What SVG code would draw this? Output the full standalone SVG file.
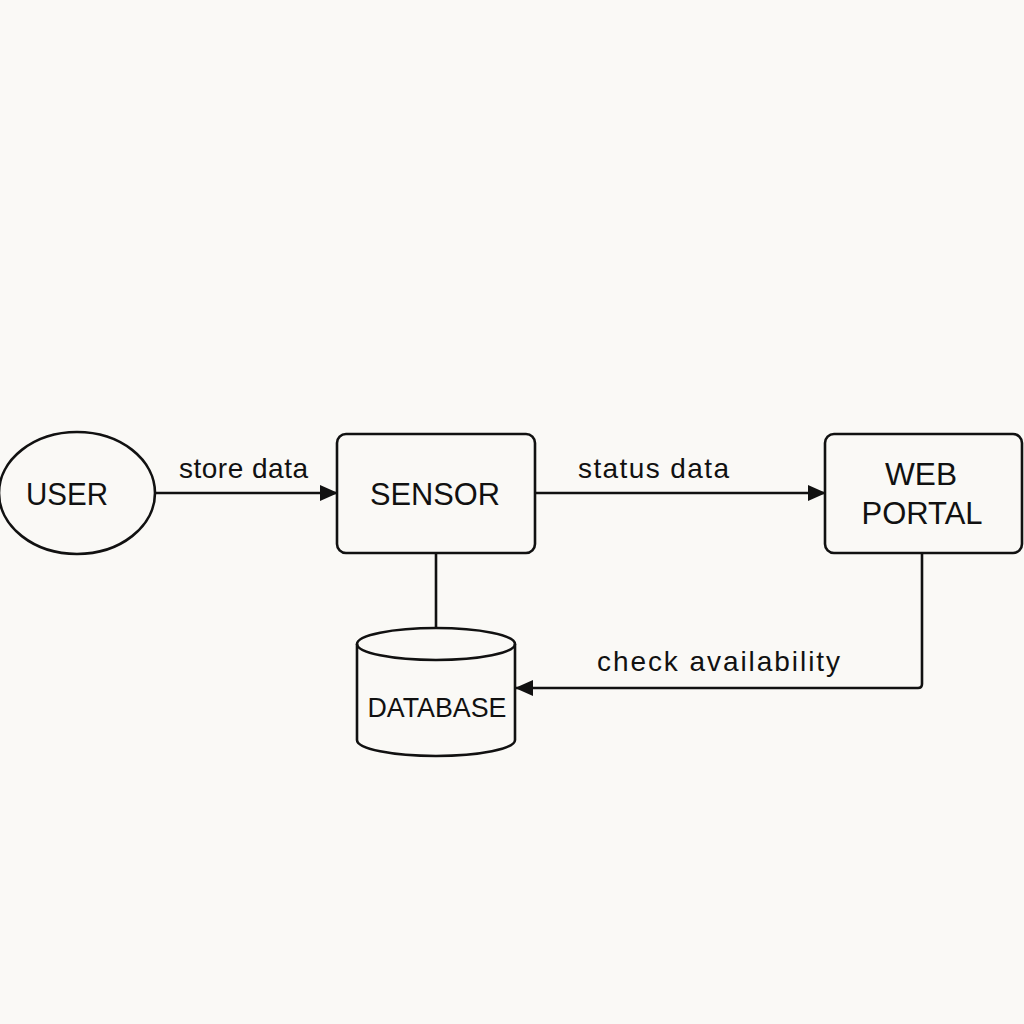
<svg xmlns="http://www.w3.org/2000/svg" width="1024" height="1024" viewBox="0 0 1024 1024">
<defs>
<style>
.shape{fill:none;stroke:#111;stroke-width:2.6}
.node{font-family:"Liberation Sans",Arial,sans-serif;font-size:31px;fill:#111;text-anchor:middle}
.lbl{font-family:"Liberation Sans",Arial,sans-serif;font-size:28px;fill:#111;text-anchor:middle}
.conn{fill:none;stroke:#111;stroke-width:2.6}
</style>
<marker id="arr" viewBox="0 0 18 16" refX="18" refY="8" markerWidth="18" markerHeight="16" markerUnits="userSpaceOnUse" orient="auto">
<path d="M0,0 L18,8 L0,16 Z" fill="#111"/>
</marker>
</defs>
<rect width="1024" height="1024" fill="#faf9f6"/>
<g id="connectors">
<line class="conn" x1="156" y1="493" x2="338" y2="493" marker-end="url(#arr)"/>
<line class="conn" x1="535" y1="493" x2="826" y2="493" marker-end="url(#arr)"/>
<line class="conn" x1="436" y1="553" x2="436" y2="628"/>
<path class="conn" d="M922,553 L922,684 Q922,688 918,688 L515,688" marker-end="url(#arr)"/>
<text class="lbl" x="243.5" y="478" textLength="129" lengthAdjust="spacing">store data</text>
<text class="lbl" x="653.5" y="478" textLength="151" lengthAdjust="spacing">status data</text>
<text class="lbl" x="718.5" y="671" textLength="243" lengthAdjust="spacing">check availability</text>
</g>
<g id="user">
<ellipse class="shape" cx="77" cy="493" rx="78" ry="61"/>
<text class="node" x="67" y="505" textLength="82" lengthAdjust="spacingAndGlyphs">USER</text>
</g>
<g id="sensor">
<rect class="shape" x="337" y="434" width="198" height="119" rx="9"/>
<text class="node" x="435" y="505" textLength="130" lengthAdjust="spacingAndGlyphs">SENSOR</text>
</g>
<g id="webportal">
<rect class="shape" x="825" y="434" width="197" height="119" rx="9"/>
<text class="node" x="921" y="485" textLength="72" lengthAdjust="spacingAndGlyphs">WEB</text>
<text class="node" x="922" y="524" textLength="121" lengthAdjust="spacingAndGlyphs">PORTAL</text>
</g>
<g id="database">
<path class="shape" d="M357,644 A79,16 0 0 1 515,644 A79,16 0 0 1 357,644 Z"/>
<path class="shape" d="M357,644 L357,740 A79,16 0 0 0 515,740 L515,644"/>
<text class="node" style="font-size:28px" x="437" y="717" textLength="139" lengthAdjust="spacingAndGlyphs">DATABASE</text>
</g>
</svg>
